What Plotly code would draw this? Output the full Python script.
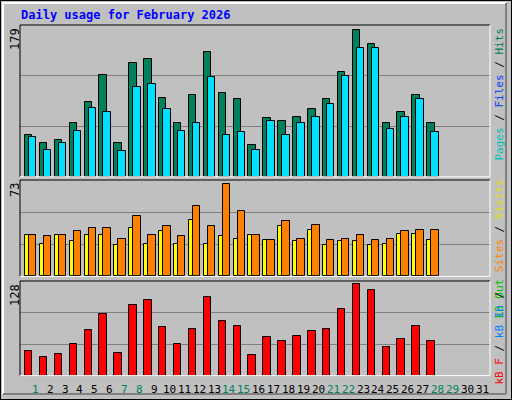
import plotly.graph_objects as go

days = list(range(1, 29))
hits = [51, 40.5, 45, 65, 91.5, 124, 40.5, 138, 143, 96, 65, 100, 152, 102, 94, 39, 72, 68, 73, 83, 94, 127, 179, 161, 65, 79, 99, 65]
pages = [48, 33, 40.5, 56, 84, 79, 31, 109, 113, 83, 56, 66, 121, 51, 55, 33, 68, 51, 66, 73, 89, 123, 156, 157, 57.5, 73, 94, 55]
visits = [32.5, 26, 32.5, 28, 32.5, 32.5, 24.6, 38, 26, 36, 26, 45, 26, 32, 30, 32.5, 28.6, 40, 28, 37, 25, 28, 28, 25, 26, 34, 34, 28.6]
sites = [33, 32, 33, 36, 38, 38, 30, 48, 33, 40, 32, 56, 40, 73, 52, 33, 29, 44, 30, 41, 29, 30, 33, 29, 30, 36, 37, 37]
kbytes = [34, 26, 30, 44, 64, 87, 31, 99, 106, 68, 44, 66, 110, 76, 69, 28.5, 54, 48, 55, 62, 65, 94, 128, 120, 40, 51, 69, 48]
day_labels = [str(d) for d in range(1, 32)]
weekend = {1, 7, 8, 14, 15, 21, 22, 28, 29}

BG = "#C0C0C0"
FONT = "DejaVu Sans Mono"
line = dict(color="black", width=1)

fig = go.Figure()
fig.add_bar(x=days, y=hits, offset=-0.54, width=0.5, marker=dict(color="#00805c", line=line), xaxis="x", yaxis="y")
fig.add_bar(x=days, y=pages, offset=-0.27, width=0.5, marker=dict(color="#00e0ff", line=line), xaxis="x", yaxis="y")
fig.add_bar(x=days, y=visits, offset=-0.54, width=0.5, marker=dict(color="#ffff00", line=line), xaxis="x", yaxis="y2")
fig.add_bar(x=days, y=sites, offset=-0.27, width=0.5, marker=dict(color="#ff8000", line=line), xaxis="x", yaxis="y2")
fig.add_bar(x=days, y=kbytes, offset=-0.54, width=0.5, marker=dict(color="#ff0000", line=line), xaxis="x", yaxis="y3")

xr = [0.13, 31.67]
tops = [184.5, 76.4, 132.6]
doms = [[0.558, 0.9375], [0.309, 0.55], [0.061, 0.2975]]

def yax(r, d, anchor="x"):
    return dict(range=[0, r], domain=d, tickvals=[r / 3, 2 * r / 3], showticklabels=False,
                gridcolor="#808080", gridwidth=1, zeroline=False, showline=False, anchor=anchor, fixedrange=True)

fig.update_layout(
    width=512, height=400, margin=dict(l=0, r=0, t=0, b=0),
    paper_bgcolor=BG, plot_bgcolor=BG, showlegend=False, barmode="overlay",
    bargap=0,
    xaxis=dict(range=xr, domain=[20 / 512, 490 / 512], showticklabels=False, showgrid=False,
               zeroline=False, anchor="y3", ticks=""),
    yaxis=yax(tops[0], doms[0]),
    yaxis2=yax(tops[1], doms[1]),
    yaxis3=yax(tops[2], doms[2]),
)

shapes = []
shapes.append(dict(type="rect", xref="paper", yref="paper", x0=0, y0=0, x1=1, y1=1, line=dict(color="black", width=2)))
shapes.append(dict(type="line", xref="paper", yref="paper", x0=2/512, x1=506/512, y0=1-3/400, y1=1-3/400, line=dict(color="white", width=2)))
shapes.append(dict(type="line", xref="paper", yref="paper", x0=3/512, x1=3/512, y0=6/400, y1=1-3/400, line=dict(color="white", width=2)))
shapes.append(dict(type="line", xref="paper", yref="paper", x0=506/512, x1=506/512, y0=6/400, y1=1-3/400, line=dict(color="#808080", width=2)))
shapes.append(dict(type="line", xref="paper", yref="paper", x0=3/512, x1=506/512, y0=6/400, y1=6/400, line=dict(color="#808080", width=2)))
for d in doms:
    x0, x1 = 20 / 512, 490 / 512
    shapes.append(dict(type="line", xref="paper", yref="paper", x0=x0, x1=x1, y0=d[1], y1=d[1], line=dict(color="black", width=1)))
    shapes.append(dict(type="line", xref="paper", yref="paper", x0=x0, x1=x0, y0=d[0], y1=d[1], line=dict(color="black", width=1)))
    shapes.append(dict(type="line", xref="paper", yref="paper", x0=x0, x1=x1, y0=d[0], y1=d[0], line=dict(color="white", width=1)))
    shapes.append(dict(type="line", xref="paper", yref="paper", x0=x1, x1=x1, y0=d[0], y1=d[1], line=dict(color="white", width=1)))
fig.update_layout(shapes=shapes)

ann = []
ann.append(dict(text="<b>Daily usage for February 2026</b>", x=19/512, y=1-15/400, xref="paper", yref="paper",
                xanchor="left", yanchor="middle", showarrow=False, font=dict(family=FONT, size=12, color="#0000ff")))
for txt, ytop in [("179", 26), ("73", 181), ("128", 282)]:
    ann.append(dict(text=txt, x=15/512, y=1-ytop/400, xref="paper", yref="paper", textangle=-90,
                    xanchor="center", yanchor="top", showarrow=False, font=dict(family=FONT, size=12, color="black")))
right = [
    ("<span style='color:#00c0c0'>Pages</span> / <span style='color:#0040ff'>Files</span> / <span style='color:#00805c'>Hits</span>", 26),
    ("<span style='color:#00c000'>kB Out</span> <span style='color:#ff8000'>Sites</span> / <span style='color:#e0e000'>Visits</span>", 178),
    ("<span style='color:#ff0000'>kB F</span> / <span style='color:#0080ff'>kB In</span> /", 290),
]
for txt, ytop in right:
    ann.append(dict(text=txt, x=499/512, y=1-ytop/400, xref="paper", yref="paper", textangle=-90,
                    xanchor="center", yanchor="top", showarrow=False, font=dict(family=FONT, size=11, color="black")))
for i, lab in enumerate(day_labels):
    d = i + 1
    ann.append(dict(text=lab, x=d + 0.15, y=11/400, xref="x", yref="paper", xanchor="center", yanchor="middle",
                    showarrow=False, font=dict(family=FONT, size=11, color="#008060" if d in weekend else "black")))
fig.update_layout(annotations=ann)

fig.write_html("out.html", config={"displayModeBar": False})
with open("out.html", encoding="utf-8") as f:
    html = f.read()
html = html.replace("<head>", "<head><style>html,body{margin:0;padding:0;overflow:hidden}</style>", 1)
with open("out.html", "w", encoding="utf-8") as f:
    f.write(html)
